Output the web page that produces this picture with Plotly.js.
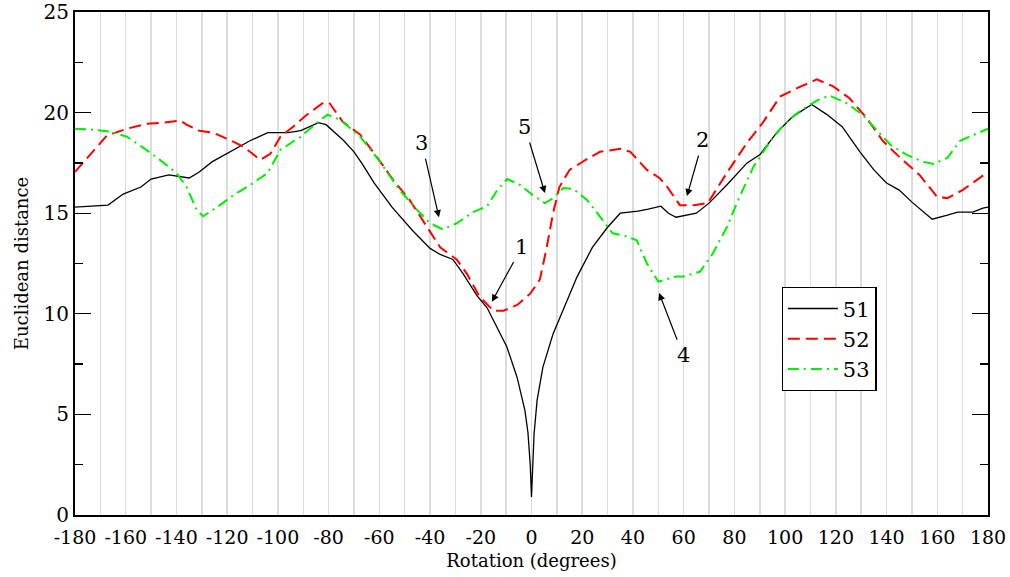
<!DOCTYPE html>
<html><head><meta charset="utf-8">
<script src="https://cdn.plot.ly/plotly-3.0.1.min.js"></script>
<style>html,body{margin:0;padding:0;background:#fff}#chart{width:1010px;height:577px}</style>
</head><body><div id="chart"></div>
<script>
const seriesNames = ["51", "52", "53"];
const x51 = [-180,-173,-167,-161,-154,-150,-143,-135,-131,-126,-119,-111,-104,-96,-91,-84,-81,-74,-70,-67,-62,-55,-47,-40,-36,-31,-27,-21.5,-17.5,-13.6,-9.7,-5.7,-2.6,-1.4,-0.5,0,0.5,1,2.2,4.5,8.5,12.4,18,24,30,35,42,46,51,54,57,65,70,77,85,90,97,103,110.5,116.5,122.5,129.5,135,140,145,150,158,164,168,174,178,180];
const y51 = [15.3,15.35,15.4,15.95,16.3,16.7,16.9,16.75,17.05,17.55,18.05,18.6,19.0,19.0,19.1,19.5,19.4,18.6,18.05,17.5,16.5,15.3,14.15,13.25,12.95,12.7,12.0,10.9,10.3,9.35,8.35,6.85,5.2,4.1,2.5,0.9,2.5,4.0,5.7,7.35,9.0,10.2,11.85,13.3,14.3,15.0,15.1,15.2,15.35,15.0,14.8,15.0,15.5,16.4,17.5,17.9,19.05,19.8,20.4,19.9,19.3,18.05,17.15,16.5,16.15,15.55,14.7,14.9,15.05,15.05,15.25,15.3];
const x52 = [-180,-173,-167.5,-159.5,-151.5,-145,-138.5,-136,-131,-125.5,-120,-113.5,-107,-103,-99,-94,-88.5,-82,-79.5,-74.5,-67.5,-61,-54.5,-48,-41,-36,-29.5,-25.5,-20.5,-15,-11,-5.5,-0.5,3.3,6,8.5,11,15,22,27,35,39,45.5,50.5,53,58.5,64,69.5,77,85,91.5,98,104.5,112.5,119,125.5,132,138.5,145,153,160,164,170,177,180];
const y52 = [17.05,18.05,18.85,19.2,19.45,19.5,19.6,19.4,19.1,19.0,18.7,18.3,17.65,17.95,18.8,19.3,19.9,20.5,20.45,19.55,18.9,17.8,16.65,15.65,14.3,13.3,12.7,12.0,10.85,10.15,10.15,10.45,11.0,11.7,13.3,15.0,16.3,17.15,17.7,18.05,18.2,18.05,17.15,16.75,16.4,15.4,15.4,15.5,17.0,18.5,19.55,20.8,21.2,21.65,21.3,20.7,19.75,18.6,17.8,16.9,15.8,15.75,16.15,16.75,17.05];
const x53 = [-180,-173,-166,-159.5,-153,-146.5,-140,-136,-132,-129.5,-124,-117.5,-111,-104,-99,-91,-86,-80.5,-75.5,-67.5,-60,-52,-45,-40,-35,-29.5,-23,-17.5,-13.5,-9.5,-4.5,0.5,5.3,8.5,12.5,16.5,22,27,32,37.5,41.5,45.5,50,57,60,66.5,71.5,77,82,87.5,94,99.5,106,112.5,117.5,124.5,130.5,136,141.5,148,154.5,158.5,164,169,178,180];
const y53 = [19.2,19.15,19.05,18.8,18.25,17.65,17.0,16.3,15.15,14.85,15.3,15.9,16.4,17.0,18.15,18.8,19.35,19.9,19.65,18.8,17.6,16.15,15.15,14.5,14.2,14.5,15.05,15.35,16.15,16.7,16.4,15.9,15.5,15.75,16.25,16.2,15.65,14.8,14.0,13.85,13.65,12.5,11.6,11.85,11.85,12.1,13.0,14.3,15.8,17.3,18.55,19.4,20.1,20.6,20.85,20.45,19.9,19.15,18.4,17.9,17.55,17.45,17.75,18.6,19.1,19.2];
const xTicks = [-180,-160,-140,-120,-100,-80,-60,-40,-20,0,20,40,60,80,100,120,140,160,180];
const yTicks = [0,5,10,15,20,25];
const noteLabels = ["1","2","3","4","5"];
const noteX = [-15.6, 61.3, -36.5, 50.3, 5.3];
const noteY = [10.6, 15.85, 14.8, 11.03, 16.0];

const FONT = "DejaVu Serif";
const noteOffsets = [[30,-55],[16,-56],[-17,-74],[24,62],[-20,-66]];

const traces = [
  {x:x51, y:y51, name:seriesNames[0], mode:'lines', line:{color:'#000000', width:1.3}},
  {x:x52, y:y52, name:seriesNames[1], mode:'lines', line:{color:'#ff0000', width:2, dash:'12px,6px'}},
  {x:x53, y:y53, name:seriesNames[2], mode:'lines', line:{color:'#00ee00', width:2, dash:'11px,5px,2px,5px'}}
];

const annotations = noteLabels.map((t,i)=>({
  x:noteX[i], y:noteY[i], xref:'x', yref:'y', text:t, showarrow:true,
  ax:noteOffsets[i][0], ay:noteOffsets[i][1], arrowhead:2, arrowsize:1.2, arrowwidth:1.2,
  arrowcolor:'#000', font:{family:FONT, size:21, color:'#000'}, standoff:0, startstandoff:2
}));

const layout = {
  width:1010, height:577,
  margin:{l:75, r:22, t:12, b:62},
  paper_bgcolor:'#fff', plot_bgcolor:'#fff',
  font:{family:FONT, size:20, color:'#000'},
  showlegend:true,
  legend:{x:0.774, y:0.453, xanchor:'left', yanchor:'top', bordercolor:'#000', borderwidth:1.2,
          bgcolor:'#fff', font:{family:FONT, size:21}, itemwidth:50, tracegroupgap:0},
  xaxis:{range:[-180,180], tickvals:xTicks, ticktext:xTicks.map(String), showline:true, linecolor:'#000', linewidth:2,
         mirror:true, ticks:'', ticklabelstandoff:4, showgrid:true, gridcolor:'#dcdcdc', gridwidth:1.5, zeroline:false,
         minor:{dtick:10, tick0:0, showgrid:true, gridcolor:'#dcdcdc', gridwidth:1.5, ticks:''},
         tickfont:{family:FONT, size:19}, title:{text:'Rotation (degrees)', font:{family:FONT, size:18}, standoff:8}},
  yaxis:{range:[0,25], tickvals:yTicks, showline:true, linecolor:'#000', linewidth:2, mirror:'ticks',
         ticks:'inside', ticklen:16, tickwidth:1.3, tickcolor:'#000', showgrid:false, zeroline:false,
         minor:{dtick:2.5, ticks:'inside', ticklen:8, tickwidth:1.3, tickcolor:'#000', showgrid:false},
         tickfont:{family:FONT, size:20}, title:{text:'Euclidean distance', font:{family:FONT, size:18}, standoff:10}},
  annotations:annotations
};
Plotly.newPlot('chart', traces, layout, {displayModeBar:false, staticPlot:true});
</script></body></html>
